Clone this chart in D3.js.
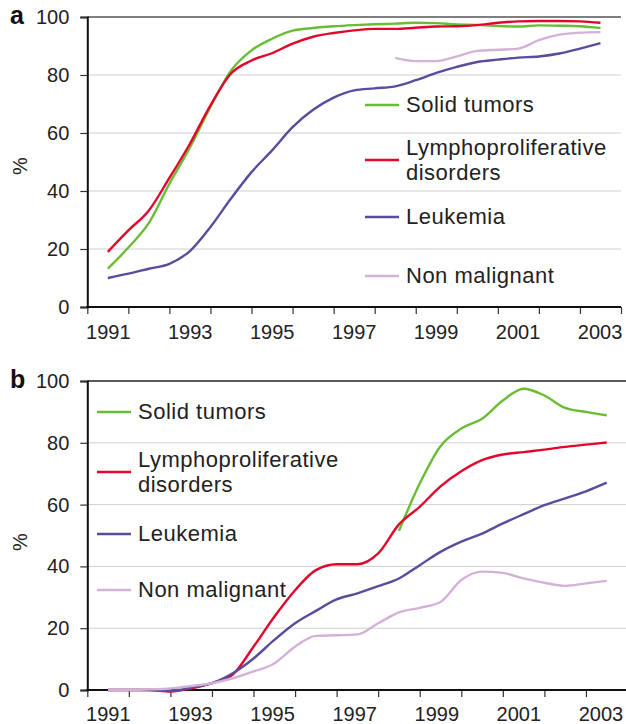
<!DOCTYPE html>
<html>
<head>
<meta charset="utf-8">
<script src="https://cdn.jsdelivr.net/npm/d3@7"></script>
<style>
  body { margin: 0; background: #fff; }
  svg { display: block; font-family: "Liberation Sans", Arial, sans-serif; }
  .tick text { fill: #222; }
</style>
</head>
<body>
<script>
// half-year points, 1991 .. 2003
var times = d3.range(1991, 2003.01, 0.5);
var labelYears = [1991, 1993, 1995, 1997, 1999, 2001, 2003];
var yTicks = [0, 20, 40, 60, 80, 100];

var seriesNames = ["Solid tumors", "Lymphoproliferative disorders", "Leukemia", "Non malignant"];
var seriesColors = ["#6abd33", "#e2062c", "#5a4c9d", "#d2b2d6"];

// panel a
var solidA = [13.2, 20.5, 29, 42.5, 55, 69, 81.5, 88.5, 92.5, 95.3, 96.2, 96.8, 97.2, 97.5, 97.7, 98, 97.9, 97.4, 97.3, 96.9, 96.7, 97.1, 97, 96.8, 96.2];
var lymphA = [19, 26.4, 33.3, 44.5, 56.3, 69.5, 80.5, 85, 87.5, 90.8, 93.2, 94.5, 95.4, 95.9, 95.9, 96.3, 96.7, 96.8, 97.2, 98, 98.5, 98.6, 98.6, 98.5, 98];
var leukA = [10, 11.5, 13.2, 14.9, 19.3, 27.6, 37.4, 46.5, 54, 62, 68, 72.2, 74.7, 75.4, 76.1, 78.2, 80.7, 82.8, 84.5, 85.3, 86, 86.4, 87.4, 89.1, 91];
var nonMalA = [null, null, null, null, null, null, null, null, null, null, null, null, null, null, 85.9, 84.8, 84.8, 86.4, 88.3, 88.7, 89.1, 92, 93.9, 94.6, 94.8];

// panel b
var solidB = [null, null, null, null, null, null, null, null, null, null, null, null, null, null, 51.5, 66.8, 78.9, 84.6, 87.8, 93.7, 97.5, 95.3, 91.3, 90, 88.9];
var lymphB = [0, 0, 0, -0.5, 0.5, 2.2, 5, 14, 23.7, 32.3, 38.8, 40.7, 40.7, 44.2, 53.6, 59.3, 65.9, 70.8, 74.4, 76.2, 77, 77.8, 78.7, 79.4, 80.1];
var leukB = [0, 0, 0, -0.3, 0.8, 2.2, 5.4, 10.2, 16.2, 21.6, 25.6, 29.3, 31.3, 33.6, 36.1, 40.4, 44.7, 48, 50.6, 53.9, 56.9, 59.8, 62, 64.3, 67.1];
var nonMalB = [0, 0, 0.2, 0.5, 1.3, 2.2, 3.8, 6, 8.6, 14, 17.5, 17.7, 18, 21.6, 25.1, 26.6, 28.5, 35.6, 38.3, 37.9, 36.1, 34.7, 33.7, 34.5, 35.3];

var W = 626, H = 724;

var svg = d3.select("body").append("svg")
    .attr("width", W)
    .attr("height", H);

function drawPanel(cfg) {
    var x = d3.scaleLinear().domain([1990.5, 2003.5]).range([cfg.left, cfg.right]);
    // year labels sit on a slightly narrower spacing than the ticks
    var xLab = d3.scaleLinear().domain([1990.5, 2003.5]).range([cfg.left, cfg.labelRight]);
    var y = d3.scaleLinear().domain([0, 100]).range([cfg.bottom, cfg.top]);
    var g = svg.append("g");

    // grid
    g.selectAll(".grid")
        .data([20, 40, 60, 80])
        .enter().append("line")
        .attr("x1", cfg.left).attr("x2", cfg.right)
        .attr("y1", function(d) { return y(d); })
        .attr("y2", function(d) { return y(d); })
        .attr("stroke", "#cfcfcf")
        .attr("stroke-width", 1);

    g.append("line")
        .attr("x1", cfg.left).attr("x2", cfg.right)
        .attr("y1", y(100)).attr("y2", y(100))
        .attr("stroke", cfg.topColor)
        .attr("stroke-width", 1.5);

    // y axis
    var ya = g.append("g")
        .attr("transform", "translate(" + cfg.left + ",0)")
        .call(d3.axisLeft(y).tickValues(yTicks).tickSize(7).tickPadding(11));
    ya.select(".domain").attr("stroke", "#111").attr("stroke-width", 2);
    ya.selectAll(".tick line").attr("stroke", "#333").attr("stroke-width", 1.2);
    ya.selectAll(".tick text").attr("font-size", 20).attr("font-family", "Liberation Sans, Arial, sans-serif");

    // x axis: ticks at year boundaries, labels at odd years
    var xa = g.append("g")
        .attr("transform", "translate(0," + cfg.bottom + ")")
        .call(d3.axisBottom(x).tickValues(d3.range(1990.5, 2004, 1)).tickFormat("").tickSize(7));
    xa.select(".domain").remove();
    xa.selectAll(".tick line").attr("stroke", "#333").attr("stroke-width", 1.2);

    var xl = g.append("g")
        .attr("transform", "translate(0," + cfg.bottom + ")")
        .call(d3.axisBottom(xLab).tickValues(labelYears).tickFormat(d3.format("d")).tickSize(0).tickPadding(cfg.xPad));
    xl.select(".domain").remove();
    xl.selectAll(".tick text").attr("font-size", 20).attr("font-family", "Liberation Sans, Arial, sans-serif");

    g.append("line")
        .attr("x1", cfg.left - 1).attr("x2", cfg.right)
        .attr("y1", cfg.bottom).attr("y2", cfg.bottom)
        .attr("stroke", "#111")
        .attr("stroke-width", 2.2);

    // series
    var line = d3.line()
        .defined(function(d) { return d[1] != null; })
        .x(function(d) { return x(d[0]); })
        .y(function(d) { return y(d[1]); })
        .curve(d3.curveMonotoneX);

    cfg.series.forEach(function(vals, i) {
        g.append("path")
            .datum(times.map(function(t, j) { return [t, vals[j]]; }))
            .attr("fill", "none")
            .attr("stroke", seriesColors[i])
            .attr("stroke-width", 2.4)
            .attr("stroke-linejoin", "round")
            .attr("d", line);
    });

    // legend
    var leg = g.append("g");
    seriesNames.forEach(function(name, i) {
        var ly = cfg.legY[i];
        leg.append("line")
            .attr("x1", cfg.legX).attr("x2", cfg.legX + 34)
            .attr("y1", ly).attr("y2", ly)
            .attr("stroke", seriesColors[i])
            .attr("stroke-width", 2.6);
        var words = name == "Lymphoproliferative disorders" ? ["Lymphoproliferative", "disorders"] : [name];
        var t = leg.append("text")
            .attr("x", cfg.legX + 41)
            .attr("font-size", 22)
            .attr("letter-spacing", 0.5)
            .attr("fill", "#222");
        words.forEach(function(w, k) {
            t.append("tspan")
                .attr("x", cfg.legX + 41)
                .attr("y", words.length > 1 ? ly - 5 + k * 25 : ly + 6.5)
                .text(w);
        });
    });

    // % label and panel letter
    g.append("text")
        .attr("transform", "translate(27," + cfg.pctY + ") rotate(-90)")
        .attr("text-anchor", "middle")
        .attr("font-size", 20)
        .attr("fill", "#222")
        .text("%");

    g.append("text")
        .attr("x", 10)
        .attr("y", cfg.top + 7)
        .attr("font-size", 25)
        .attr("font-weight", "bold")
        .attr("fill", "#111")
        .text(cfg.letter);
}

drawPanel({
    letter: "a",
    left: 87.3, right: 621, labelRight: 620, top: 17, bottom: 307,
    topColor: "#555",
    xPad: 18,
    pctY: 166,
    series: [solidA, lymphA, leukA, nonMalA],
    legX: 365,
    legY: [105, 160, 217, 276]
});

drawPanel({
    letter: "b",
    left: 87.3, right: 627.5, labelRight: 621, top: 381, bottom: 690,
    topColor: "#222",
    xPad: 16.5,
    pctY: 542,
    series: [solidB, lymphB, leukB, nonMalB],
    legX: 97,
    legY: [412, 472, 534, 590]
});
</script>
</body>
</html>
